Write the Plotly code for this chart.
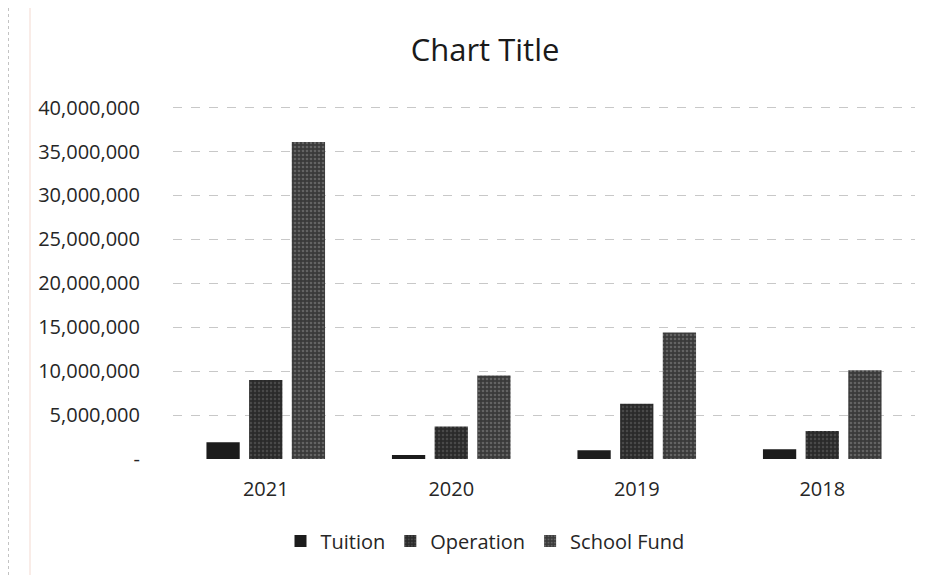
import plotly.graph_objects as go

categories = ["2021", "2020", "2019", "2018"]
tuition = [1900000, 450000, 1000000, 1100000]
operation = [9000000, 3700000, 6300000, 3200000]
school_fund = [36100000, 9500000, 14400000, 10100000]

tick_vals = [0, 5000000, 10000000, 15000000, 20000000, 25000000, 30000000, 35000000, 40000000]
tick_text = ["-", "5,000,000", "10,000,000", "15,000,000", "20,000,000",
             "25,000,000", "30,000,000", "35,000,000", "40,000,000"]

# page body has an 8px margin, so the figure is drawn offset by 8px
OFF = 8
W, H = 928, 567
L, R, T, B = 165, 21, 97, 116

fig = go.Figure()
fig.add_trace(go.Bar(name="Tuition", x=categories, y=tuition,
                     marker=dict(color="#1c1c1c", line=dict(width=0))))
fig.add_trace(go.Bar(name="Operation", x=categories, y=operation,
                     marker=dict(color="#2a2a2a", line=dict(width=0),
                                 pattern=dict(shape=".", fgcolor="#686868", bgcolor="#2a2a2a",
                                              size=4, solidity=0.3))))
fig.add_trace(go.Bar(name="School Fund", x=categories, y=school_fund,
                     marker=dict(color="#3a3a3a", line=dict(width=0),
                                 pattern=dict(shape=".", fgcolor="#8c8c8c", bgcolor="#3a3a3a",
                                              size=4, solidity=0.35))))

pw = W - L - R
ph = H - T - B

fig.update_layout(
    width=W, height=H,
    margin=dict(l=L, r=R, t=T, b=B),
    paper_bgcolor="white", plot_bgcolor="white",
    font=dict(family="Open Sans, Liberation Sans, sans-serif", color="#262626", size=20),
    title=dict(text="Chart Title", x=(485 - OFF) / W, xanchor="center",
               y=1 - (50 - OFF) / H, yanchor="middle",
               font=dict(size=31, color="#1a1a1a")),
    barmode="group", bargap=0.31, bargroupgap=0.22,
    showlegend=True,
    legend=dict(orientation="h", x=(485 - OFF - L) / pw,
                xanchor="center", y=-(541 - OFF - (H - B)) / ph, yanchor="middle",
                font=dict(size=20), traceorder="normal"),
    xaxis=dict(showgrid=False, showline=False, ticks="", tickfont=dict(size=20),
               ticklabelstandoff=16),
    yaxis=dict(range=[0, 40300000], tickvals=tick_vals, ticktext=tick_text,
               showgrid=True, gridcolor="#c8c8c8", griddash="dash", gridwidth=1,
               zeroline=False, showline=False, ticks="", tickfont=dict(size=20),
               ticklabelstandoff=32),
)

# scan edge artifacts
fig.add_shape(type="line", xref="paper", yref="paper",
              x0=(8 - OFF - L) / pw, x1=(8 - OFF - L) / pw,
              y0=-B / ph, y1=(H - T) / ph,
              line=dict(color="#888888", width=1, dash="dot"))
fig.add_shape(type="line", xref="paper", yref="paper",
              x0=(30 - OFF - L) / pw, x1=(30 - OFF - L) / pw,
              y0=-B / ph, y1=(H - T) / ph,
              line=dict(color="#f3d9d0", width=1))

fig.write_html("out.html")
